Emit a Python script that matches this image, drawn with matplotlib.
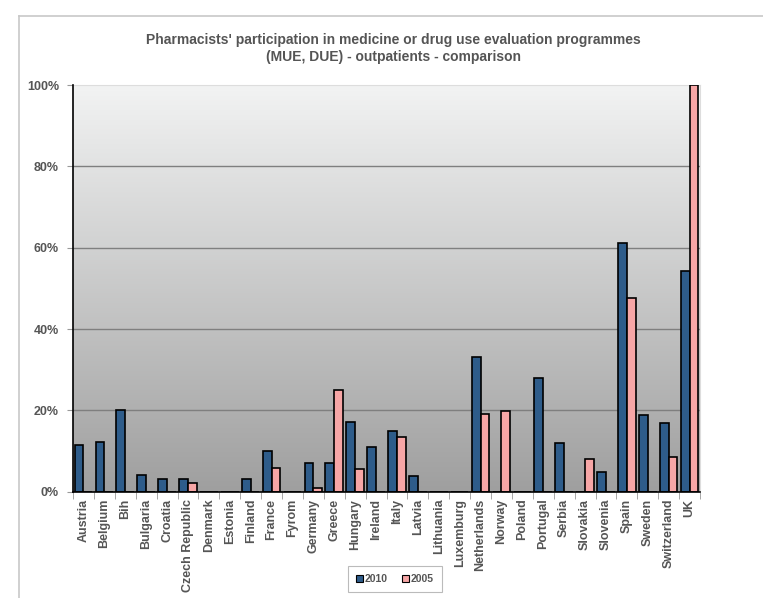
import numpy as np
import matplotlib.pyplot as plt
from matplotlib.lines import Line2D
from matplotlib.patches import Patch
from matplotlib.colors import LinearSegmentedColormap

plt.rcParams['font.family'] = ['Liberation Sans', 'DejaVu Sans']

countries = ['Austria', 'Belgium', 'Bih', 'Bulgaria', 'Croatia', 'Czech Republic',
             'Denmark', 'Estonia', 'Finland', 'France', 'Fyrom', 'Germany', 'Greece',
             'Hungary', 'Ireland', 'Italy', 'Latvia', 'Lithuania', 'Luxemburg',
             'Netherlands', 'Norway', 'Poland', 'Portugal', 'Serbia', 'Slovakia',
             'Slovenia', 'Spain', 'Sweden', 'Switzerland', 'UK']
vals_2010 = [11.4, 12.2, 20, 4, 3, 3, 0, 0, 3, 10, 0, 7, 7, 17.1, 11.1, 15, 3.9, 0, 0,
             33.1, 0, 0, 28, 11.9, 0, 4.9, 61.2, 18.9, 16.9, 54.2]
vals_2005 = [0, 0, 0, 0, 0, 2.1, 0, 0, 0, 5.9, 0, 0.8, 25, 5.7, 0, 13.5, 0, 0, 0,
             19.2, 19.9, 0, 0, 0, 8.1, 0, 47.7, 0, 8.6, 100]
yticks = [0, 20, 40, 60, 80, 100]

c2010 = '#2E5C8A'
c2005 = '#F7A6A6'
txt = '#555555'

W, H = 763, 598
fig = plt.figure(figsize=(W / 100, H / 100), dpi=100)

# outer chart border (light gray)
fig.add_artist(Line2D([19 / W, 1], [1 - 16 / H, 1 - 16 / H], color='#c8c8c8', lw=1.2,
                      transform=fig.transFigure))
fig.add_artist(Line2D([19 / W, 19 / W], [1 - 16 / H, 0], color='#c8c8c8', lw=1.2,
                      transform=fig.transFigure))

left, right, top, bottom = 73, 700, 85, 491.7
ax = fig.add_axes([left / W, 1 - bottom / H, (right - left) / W, (bottom - top) / H])

n = len(countries)
x = np.arange(n)

# gradient background: dark gray at bottom, near white at top
grad = np.linspace(0, 1, 256).reshape(-1, 1)
cmap = LinearSegmentedColormap.from_list('bg', ['#9f9f9f', '#f2f3f3'])
ax.imshow(grad, extent=[0, n, 0, 100], origin='lower', aspect='auto', cmap=cmap,
          zorder=0)

for y in [20, 40, 60, 80]:
    ax.axhline(y, color='#7f7f7f', lw=1, zorder=1)

bw = 0.42
ax.bar(x + 0.5 - bw / 2, vals_2010, width=bw, color=c2010, edgecolor='black', lw=1.2,
       zorder=3)
ax.bar(x + 0.5 + bw / 2, vals_2005, width=bw, color=c2005, edgecolor='black', lw=1.2,
       zorder=3)

ax.set_xlim(0, n)
ax.set_ylim(0, 100)

ax.set_yticks(yticks)
ax.set_yticklabels([f'{v}%' for v in yticks])
ax.set_xticks(x + 0.5)
ax.set_xticklabels(countries, rotation=90)
ax.set_xticks(np.arange(n + 1), minor=True)
ax.tick_params(axis='x', which='major', length=0, pad=5, labelsize=9, labelcolor=txt)
ax.tick_params(axis='x', which='minor', length=5, color='#999999', direction='out')
ax.tick_params(axis='y', length=4, color='#999999', labelsize=9, labelcolor=txt, pad=6)
for lab in ax.get_xticklabels() + ax.get_yticklabels():
    lab.set_fontweight('bold')

for s in ['top', 'right']:
    ax.spines[s].set_color('#dddddd')
    ax.spines[s].set_linewidth(0.8)
for s in ['left', 'bottom']:
    ax.spines[s].set_color('black')
    ax.spines[s].set_linewidth(1.2)
ax.spines['left'].set_zorder(4)
ax.spines['bottom'].set_zorder(4)

fig.text(393 / W, 1 - 40 / H,
         "Pharmacists' participation in medicine or drug use evaluation programmes",
         ha='center', va='center', fontsize=10, fontweight='bold', color=txt)
fig.text(393 / W, 1 - 57 / H, "(MUE, DUE) - outpatients - comparison",
         ha='center', va='center', fontsize=10, fontweight='bold', color=txt)

handles = [Patch(facecolor=c2010, edgecolor='black', lw=0.8),
           Patch(facecolor=c2005, edgecolor='black', lw=0.8)]
leg = fig.legend(handles, ['2010', '2005'], loc='center',
                 bbox_to_anchor=(395 / W, 1 - 579 / H), ncol=2, frameon=True,
                 fancybox=False, edgecolor='#aaaaaa', fontsize=7.5,
                 handlelength=0.6, handleheight=0.6, handletextpad=0.2,
                 columnspacing=1.4, borderpad=0.8, borderaxespad=0)
leg.get_frame().set_linewidth(0.8)
for t in leg.get_texts():
    t.set_fontweight('bold')
    t.set_color(txt)

fig.savefig('out.png', dpi=100)
